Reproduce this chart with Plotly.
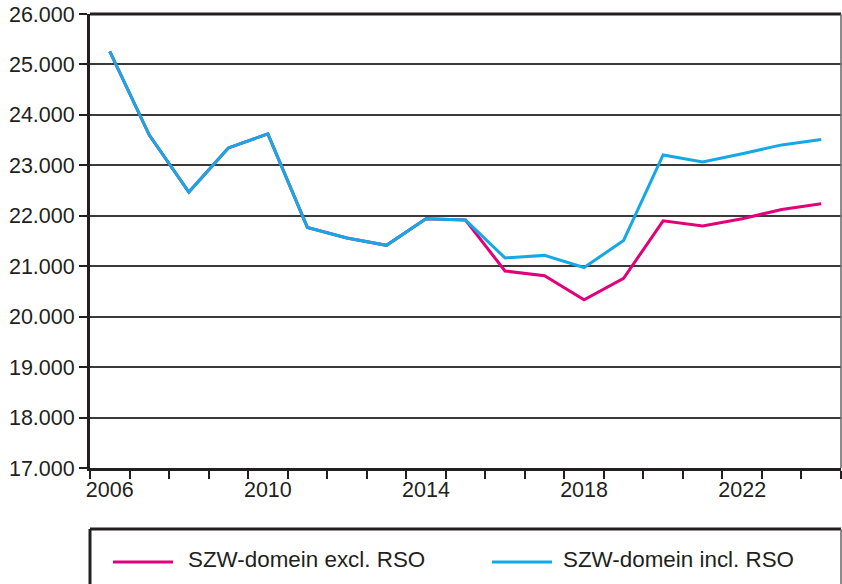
import plotly.graph_objects as go

years = list(range(2006, 2025))
excl_rso = [25260, 23600, 22470, 23345, 23625, 21770, 21560, 21415, 21940, 21915,
            20905, 20810, 20335, 20760, 21900, 21800, 21940, 22125, 22240]
incl_rso = [25260, 23600, 22470, 23345, 23625, 21770, 21560, 21415, 21940, 21915,
            21165, 21215, 20975, 21510, 23205, 23065, 23230, 23405, 23510]
series_names = ["SZW-domein excl. RSO", "SZW-domein incl. RSO"]
x_tick_labels = [2006, 2010, 2014, 2018, 2022]
y_ticks = list(range(17000, 26001, 1000))

PINK = "#E2007A"
CYAN = "#14A9E6"
DARK = "#231F20"
FONT = "Liberation Sans, Arial, sans-serif"

fig = go.Figure()
fig.add_trace(go.Scatter(x=years, y=excl_rso, mode="lines", name=series_names[0],
                         line=dict(color=PINK, width=3), showlegend=False))
fig.add_trace(go.Scatter(x=years, y=incl_rso, mode="lines", name=series_names[1],
                         line=dict(color=CYAN, width=3), showlegend=False))

half_years = [y - 0.5 for y in years] + [years[-1] + 0.5]

fig.update_layout(
    width=842, height=584,
    margin=dict(l=90, r=1, t=14, b=116, autoexpand=False),
    paper_bgcolor="white", plot_bgcolor="white",
    separators=",.",
    font=dict(family=FONT, size=21, color=DARK),
    xaxis=dict(
        automargin=False,
        range=[years[0] - 0.5, years[-1] + 0.5],
        tickmode="array", tickvals=x_tick_labels, ticktext=[str(v) for v in x_tick_labels],
        ticks="", showgrid=False, zeroline=False,
        showline=True, linecolor=DARK, linewidth=3,
        minor=dict(tickmode="array", tickvals=half_years, ticks="outside",
                   ticklen=8, tickwidth=1.5, tickcolor=DARK, showgrid=False),
        tickfont=dict(size=21.5, color=DARK),
    ),
    yaxis=dict(
        automargin=False,
        range=[17000, 26000],
        tickmode="array", tickvals=y_ticks,
        tickformat=",d",
        ticks="outside", ticklen=8, tickwidth=1.5, tickcolor=DARK,
        showgrid=True, gridcolor="#3a3a3a", gridwidth=1.5,
        zeroline=False,
        showline=True, linecolor=DARK, linewidth=3,
        tickfont=dict(size=21.5, color=DARK),
    ),
)

# plot frame: thick top, thin right
fig.add_shape(type="line", xref="paper", yref="paper", x0=0, x1=1, y0=1, y1=1,
              line=dict(color=DARK, width=3))
fig.add_shape(type="line", xref="paper", yref="paper", x0=1, x1=1, y0=0, y1=1,
              line=dict(color="#666666", width=1.5))

# legend box (plot area is 454px tall, 751px wide)
def py(pix):
    return (468 - pix) / 454

def px(pix):
    return (pix - 90) / 751

fig.add_shape(type="line", xref="paper", yref="paper", x0=0, x1=1, y0=py(529), y1=py(529),
              line=dict(color=DARK, width=3))
fig.add_shape(type="line", xref="paper", yref="paper", x0=0, x1=0, y0=py(529), y1=py(600),
              line=dict(color=DARK, width=3))
fig.add_shape(type="line", xref="paper", yref="paper", x0=1, x1=1, y0=py(529), y1=py(600),
              line=dict(color="#666666", width=1.5))

legend_items = [(series_names[0], PINK, 113, 186), (series_names[1], CYAN, 492, 561)]
for name, color, x0, tx in legend_items:
    fig.add_shape(type="line", xref="paper", yref="paper",
                  x0=px(x0), x1=px(x0 + 60), y0=py(562), y1=py(562),
                  line=dict(color=color, width=3))
    fig.add_annotation(text=name, xref="paper", yref="paper",
                       x=px(tx), y=py(559), xanchor="left", yanchor="middle",
                       showarrow=False, font=dict(size=22.4, color=DARK, family=FONT))

fig.write_html(
    "out.html",
    config={"displayModeBar": False},
    post_script="document.body.style.margin='0';document.body.style.overflow='hidden';",
)
